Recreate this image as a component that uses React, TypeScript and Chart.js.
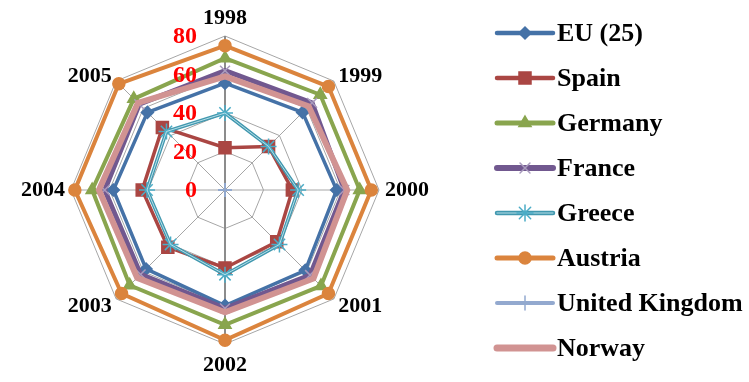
import React, { useEffect, useRef } from 'react';
import { Chart, registerables } from 'chart.js';
import { drawPoint } from 'chart.js/helpers';

Chart.register(...registerables);

const CATEGORIES = ['1998', '1999', '2000', '2001', '2002', '2003', '2004', '2005'];
const SERIES_NAMES = ['EU (25)', 'Spain', 'Germany', 'France', 'Greece', 'Austria', 'United Kingdom', 'Norway'];
const EU25 = [55.5, 57, 58, 59, 60, 58, 58, 57];
const SPAIN = [22, 32, 35, 38, 40.5, 42, 43, 46];
const GERMANY = [68.5, 70, 70, 70.5, 70, 70, 69, 67];
const FRANCE = [62, 64, 62, 62.5, 61.5, 62, 62.5, 63];
const GREECE = [40, 32, 38, 40, 44, 40, 40.5, 43];
const AUSTRIA = [75, 76, 76, 76, 78, 76, 78, 78];
const UNITED_KINGDOM = [0, 0, 0, 0, 0, 0, 0, 0];
const NORWAY = [59, 61.5, 63.5, 65, 63.5, 64.5, 65.5, 64];
const TICK_VALUES = [0, 20, 40, 60, 80];

const SERIES_VALUES = [EU25, SPAIN, GERMANY, FRANCE, GREECE, AUSTRIA, UNITED_KINGDOM, NORWAY];

const STYLES = [
  { color: '#4572A7', width: 3.5, point: 'rectRot', radius: 6, pColor: '#4572A7' },
  { color: '#AA4643', width: 3.5, point: 'rect', radius: 8.5, pColor: '#AA4643' },
  { color: '#89A54E', width: 4, point: 'triangle', radius: 7, pColor: '#89A54E' },
  { color: '#71588F', width: 5, point: 'crossRot', radius: 7, pColor: '#A99BBD' },
  { color: '#4198AF', width: 3.5, point: 'star', radius: 8, pColor: '#4BACC6' },
  { color: '#DB843D', width: 4, point: 'circle', radius: 6, pColor: '#DB843D' },
  { color: '#93A9CF', width: 3, point: 'cross', radius: 7, pColor: '#93A9CF' },
  { color: '#D19392', width: 6, point: false, radius: 0, pColor: '#D19392' },
];

const FONT_FAMILY = '"Liberation Serif", "Times New Roman", serif';

const labelsPlugin = {
  id: 'labelsPlugin',
  afterDraw(chart: any) {
    const s = chart.scales.r;
    const ctx = chart.ctx;
    ctx.save();
    // category labels around the web
    ctx.font = `bold 22px ${FONT_FAMILY}`;
    ctx.fillStyle = '#000000';
    ctx.textBaseline = 'middle';
    const outer = s.getDistanceFromCenterForValue(80);
    CATEGORIES.forEach((label, i) => {
      const p = s.getPointPosition(i, outer + 6);
      const dx = p.x - s.xCenter;
      const dy = p.y - s.yCenter;
      let y = p.y;
      if (Math.abs(dx) < 1) {
        ctx.textAlign = 'center';
        y += dy < 0 ? -12 : 15;
      } else {
        ctx.textAlign = dx > 0 ? 'left' : 'right';
        if (Math.abs(dy) > 1) y += dy < 0 ? -1 : 3;
      }
      ctx.fillText(label, p.x, y);
    });
    // tick labels
    ctx.font = `bold 24px ${FONT_FAMILY}`;
    ctx.fillStyle = '#FF0000';
    ctx.textAlign = 'right';
    ctx.textBaseline = 'middle';
    TICK_VALUES.forEach((v) => {
      const d = s.getDistanceFromCenterForValue(v);
      ctx.fillText(String(v), s.xCenter - 28, s.yCenter - d + 1);
    });
    ctx.restore();
  },
};

const legendPlugin = {
  id: 'customLegend',
  afterDraw(chart: any) {
    const ctx = chart.ctx;
    ctx.save();
    const x0 = 497;
    const x1 = 553;
    const tx = 557;
    const y0 = 33;
    const step = 45;
    SERIES_NAMES.forEach((name, i) => {
      const st = STYLES[i];
      const y = y0 + i * step;
      ctx.strokeStyle = st.color;
      ctx.lineWidth = st.width + 1;
      ctx.lineCap = 'round';
      ctx.beginPath();
      ctx.moveTo(x0, y);
      ctx.lineTo(x1, y);
      ctx.stroke();
      if (i === 4) {
        ctx.strokeStyle = '#B7DEE8';
        ctx.lineWidth = 1;
        ctx.beginPath();
        ctx.moveTo(x0, y);
        ctx.lineTo(x1, y);
        ctx.stroke();
      }
      if (st.point) {
        ctx.strokeStyle = st.pColor;
        ctx.fillStyle = st.pColor;
        ctx.lineWidth = 1.5;
        drawPoint(ctx, { pointStyle: st.point, rotation: 0, radius: st.radius, borderWidth: 1.5 } as any, (x0 + x1) / 2, y);
      }
      ctx.fillStyle = '#000000';
      ctx.font = `bold 26px ${FONT_FAMILY}`;
      ctx.textAlign = 'left';
      ctx.textBaseline = 'middle';
      ctx.fillText(name, tx, y + 1);
    });
    ctx.restore();
  },
};

export default function App() {
  const ref = useRef<HTMLCanvasElement | null>(null);
  useEffect(() => {
    if (!ref.current) return;
    const datasets: any[] = SERIES_NAMES.map((name, i) => {
      const st = STYLES[i];
      return {
        label: name,
        data: SERIES_VALUES[i],
        borderColor: st.color,
        borderWidth: st.width,
        backgroundColor: st.pColor,
        fill: false,
        pointStyle: st.point as any,
        pointRadius: st.radius,
        pointHoverRadius: st.radius,
        pointBackgroundColor: st.pColor,
        pointBorderColor: st.pColor,
        pointBorderWidth: 1.5,
        order: SERIES_NAMES.length - i,
      };
    });
    // light centre stripe of the Greece line (double-line look)
    datasets.push({
      label: 'Greece stripe',
      data: GREECE,
      borderColor: '#B7DEE8',
      borderWidth: 1,
      fill: false,
      pointRadius: 0,
      pointHoverRadius: 0,
      order: SERIES_NAMES.length - 4 - 0.5,
    });
    const chart = new Chart(ref.current, {
      type: 'radar',
      data: { labels: CATEGORIES, datasets },
      plugins: [labelsPlugin, legendPlugin],
      options: {
        animation: false,
        responsive: false,
        layout: { padding: { left: 71, right: 370, top: 36, bottom: 38 } },
        plugins: { legend: { display: false }, tooltip: { enabled: false } },
        elements: { line: { tension: 0 } },
        scales: {
          r: {
            min: 0,
            max: 80,
            ticks: { display: false, stepSize: 20 },
            grid: { color: '#A6A6A6', lineWidth: 1 },
            angleLines: {
              color: (c: any) => (c.index % 4 === 0 ? '#8C8C8C' : '#A6A6A6'),
              lineWidth: (c: any) => (c.index % 4 === 0 ? 2 : 1),
            },
            pointLabels: { display: false },
          },
        },
      },
    });
    return () => chart.destroy();
  }, []);
  return (
    <div style={{ position: 'fixed', left: 0, top: 0, width: 749, height: 382, background: '#FFFFFF' }}>
      <canvas ref={ref} width={749} height={382} style={{ display: 'block' }} />
    </div>
  );
}
